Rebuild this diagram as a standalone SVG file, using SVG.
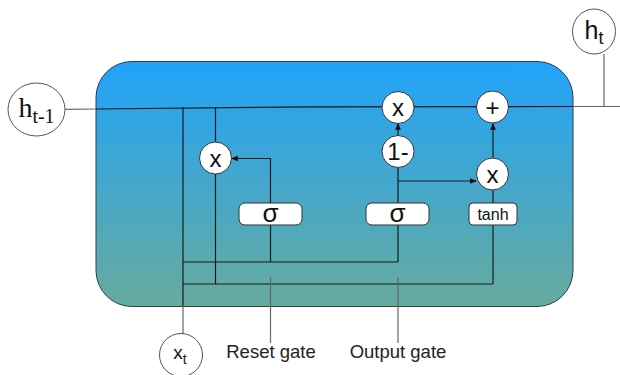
<svg xmlns="http://www.w3.org/2000/svg" width="620" height="375" viewBox="0 0 620 375">
<defs>
<linearGradient id="bg" x1="0" y1="0" x2="0" y2="1">
<stop offset="0" stop-color="#21a3fa"/>
<stop offset="1" stop-color="#67ab9e"/>
</linearGradient>
<marker id="ah" viewBox="0 0 10 10" refX="9" refY="5" markerWidth="7" markerHeight="7" markerUnits="userSpaceOnUse" orient="auto">
<path d="M0,1 L10,5 L0,9 Z" fill="#111"/>
</marker>
<style>
.ln{stroke:#1a1a1a;stroke-width:1.2;fill:none}
.gl{stroke:#666;stroke-width:1.2;fill:none}
.op{fill:#fff;stroke:#333;stroke-width:1}
.bx{fill:#fff;stroke:#333;stroke-width:1}
.t{font-family:"Liberation Sans",Arial,sans-serif;fill:#111;text-anchor:middle}
</style>
</defs>
<rect id="cell" x="96" y="61.5" width="477" height="245" rx="36" ry="36" fill="url(#bg)" stroke="#2f3f48" stroke-width="1"/>
<g id="connectors">
<path class="gl" d="M65,109.3 L96,109"/>
<path class="ln" d="M96,109 L310,106.8 L573,106.5"/>
<path class="gl" d="M573,106.5 L620,106.5"/>
<path class="gl" d="M604,54 L604,106.5"/>
<path class="ln" d="M183,107 L183,306"/>
<path class="gl" d="M183,306 L183,337"/>
<path class="ln" d="M215.5,107 L215.5,284"/>
<path class="ln" d="M183,262 L398,262"/>
<path class="ln" d="M183,284 L493,284"/>
<path class="ln" d="M270.5,262 L270.5,225"/>
<path class="ln" d="M270.5,203 L270.5,158.5 L231.5,158.5" marker-end="url(#ah)"/>
<path class="ln" d="M398,262 L398,225"/>
<path class="ln" d="M398,203 L398,168"/>
<path class="ln" d="M398,136 L398,123.5" marker-end="url(#ah)"/>
<path class="ln" d="M398,181 L476,181" marker-end="url(#ah)"/>
<path class="ln" d="M493,284 L493,225"/>
<path class="ln" d="M493,203 L493,189"/>
<path class="ln" d="M493,158 L493,123.5" marker-end="url(#ah)"/>
<path class="gl" d="M270.5,277 L270.5,343"/>
<path class="gl" d="M398,277 L398,343"/>
</g>
<g id="h_prev">
<ellipse cx="36.5" cy="109.5" rx="28.5" ry="26.5" fill="#fff" stroke="#555" stroke-width="1"/>
<text x="36.5" y="117" class="t" style="font-family:'Liberation Serif','Times New Roman',serif;font-size:28px">h<tspan font-size="20" dy="6">t-1</tspan></text>
</g>
<g id="h_t">
<ellipse cx="594" cy="31.5" rx="21.5" ry="22.5" fill="#fff" stroke="#555" stroke-width="1"/>
<text x="594" y="39" class="t" style="font-size:25px">h<tspan font-size="18" dy="5">t</tspan></text>
</g>
<g id="x_t">
<circle cx="181" cy="355" r="21.5" fill="#fff" stroke="#555" stroke-width="1"/>
<text x="180" y="359" class="t" style="font-size:19px">x<tspan font-size="14" dy="5">t</tspan></text>
</g>
<g id="mul_reset">
<circle class="op" cx="215.5" cy="158" r="16"/>
<text x="215.5" y="166.5" class="t" style="font-size:24px">x</text>
</g>
<g id="mul_top">
<circle class="op" cx="398" cy="107.5" r="16"/>
<text x="398" y="116" class="t" style="font-size:24px">x</text>
</g>
<g id="plus">
<circle class="op" cx="492.5" cy="107" r="16"/>
<text x="492.5" y="115.5" class="t" style="font-size:24px">+</text>
</g>
<g id="one_minus">
<circle class="op" cx="398" cy="151.5" r="16"/>
<text x="398" y="160" class="t" style="font-size:24px">1-</text>
</g>
<g id="mul_low">
<circle class="op" cx="492.5" cy="174" r="16"/>
<text x="492.5" y="182.5" class="t" style="font-size:24px">x</text>
</g>
<g id="sigma_reset">
<rect class="bx" x="239" y="203" width="63" height="22" rx="6"/>
<text x="270.5" y="222" class="t" style="font-size:26px">σ</text>
</g>
<g id="sigma_output">
<rect class="bx" x="366" y="203" width="63" height="22" rx="6"/>
<text x="397.5" y="222" class="t" style="font-size:26px">σ</text>
</g>
<g id="tanh">
<rect class="bx" x="469" y="203" width="48" height="22" rx="4"/>
<text x="493" y="219.5" class="t" style="font-size:16px">tanh</text>
</g>
<g id="labels">
<text x="271" y="358" class="t" style="font-size:18.5px;fill:#222">Reset gate</text>
<text x="398" y="358" class="t" style="font-size:18.5px;fill:#222">Output gate</text>
</g>
</svg>
